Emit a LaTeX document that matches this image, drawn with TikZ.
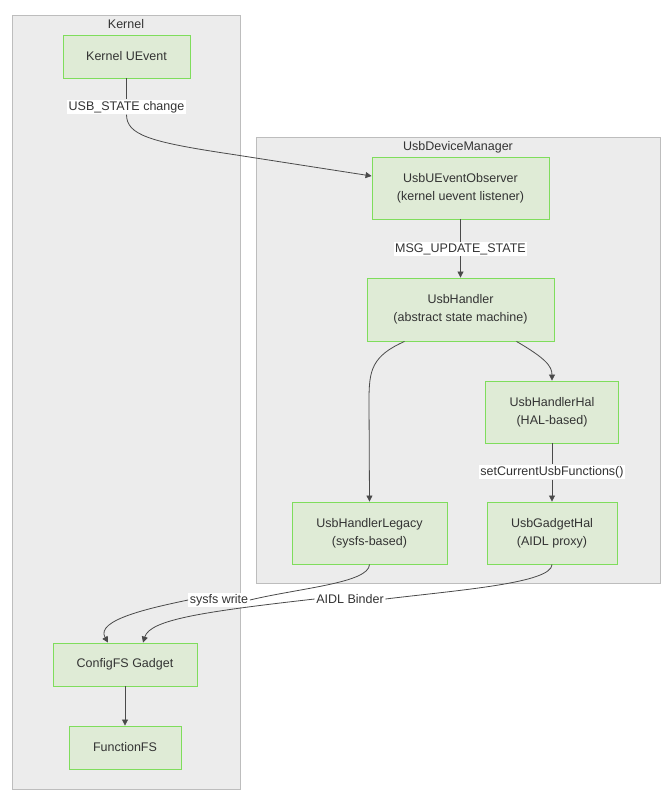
\documentclass[tikz,border=0pt]{standalone}
\usepackage{fontspec}
\setmainfont{Liberation Sans}
\usetikzlibrary{arrows.meta}
\definecolor{nfill}{HTML}{DFEBD6}
\definecolor{nborder}{HTML}{7FDD5C}
\definecolor{cfill}{HTML}{ECECEC}
\definecolor{cborder}{HTML}{BDBDBD}
\definecolor{txt}{HTML}{333333}
\definecolor{edgec}{HTML}{4A4A4A}
\begin{document}
\begin{tikzpicture}[x=1pt,y=-1pt,
  font=\fontsize{12.5}{18}\selectfont, text=txt,
  box/.style={draw=nborder, fill=nfill, line width=0.9pt, inner sep=0pt, align=center},
  cluster/.style={draw=cborder, fill=cfill, line width=0.9pt},
  ctitle/.style={inner sep=0pt},
  elabel/.style={fill=white, inner sep=1.5pt},
  conn/.style={draw=edgec, line width=0.8pt, -{Triangle[length=6pt,width=6pt]}},
  plain/.style={draw=edgec, line width=0.8pt}]
\useasboundingbox (0,0) rectangle (668,804);
\fill[white] (0,0) rectangle (668,804);
% clusters
\draw[cluster] (12,15) rectangle (240,789);
\node[ctitle] (kt) at (126,24) {Kernel};
\draw[cluster] (256,137) rectangle (660,583);
\node[ctitle] (ut) at (458,147) {UsbDeviceManager};
% nodes
\node[box, minimum width=127pt, minimum height=43pt] (ku) at (126.5,56.5) {Kernel UEvent};
\node[box, minimum width=177pt, minimum height=62pt] (uo) at (460.5,188) {UsbUEventObserver\\(kernel uevent listener)};
\node[box, minimum width=187pt, minimum height=63pt] (uh) at (460.5,309.5) {UsbHandler\\(abstract state machine)};
\node[box, minimum width=133pt, minimum height=62pt] (uhh) at (552,412) {UsbHandlerHal\\(HAL-based)};
\node[box, minimum width=155pt, minimum height=62pt] (ul) at (369.5,533) {UsbHandlerLegacy\\(sysfs-based)};
\node[box, minimum width=130pt, minimum height=62pt] (ug) at (552,533) {UsbGadgetHal\\(AIDL proxy)};
\node[box, minimum width=144pt, minimum height=43pt] (cf) at (125,664.5) {ConfigFS Gadget};
\node[box, minimum width=112pt, minimum height=43pt] (ff) at (125,747.5) {FunctionFS};
% edge labels
\node[elabel] (l1) at (126.5,107) {USB\_STATE change};
\node[elabel] (l2) at (460.5,249) {MSG\_UPDATE\_STATE};
\node[elabel] (l3) at (552,472) {setCurrentUsbFunctions()};
\node[elabel] (l4) at (219,600) {sysfs write};
\node[elabel] (l5) at (350,599) {AIDL Binder};
% edges
\draw[plain] (ku.south) -- (l1.north);
\draw[conn] (l1.south) .. controls (126.5,135) and (150,142) .. (230,154) -- (uo.west |- 0,176);
\draw[plain] (uo.south) -- (l2.north);
\draw[conn] (l2.south) -- (uh.north);
\draw[conn] ([xshift=-56pt]uh.south) .. controls (372,356) and (369,370) .. (369,400) -- (ul.north);
\draw[conn] ([xshift=56pt]uh.south) .. controls (545,358) and (552,366) .. (uhh.north);
\draw[plain] (uhh.south) -- (l3.north);
\draw[conn] (l3.south) -- (ug.north);
\draw[plain] (ul.south) .. controls (369,583) and (300,588) .. (l4.east);
\draw[conn] (l4.west) .. controls (150,608) and (95,620) .. ([xshift=-17pt]cf.north);
\draw[plain] (ug.south) .. controls (552,583) and (460,590) .. (l5.east);
\draw[conn] (l5.west) .. controls (200,612) and (150,620) .. ([xshift=18pt]cf.north);
\draw[conn] (cf.south) -- (ff.north);
\end{tikzpicture}
\end{document}
